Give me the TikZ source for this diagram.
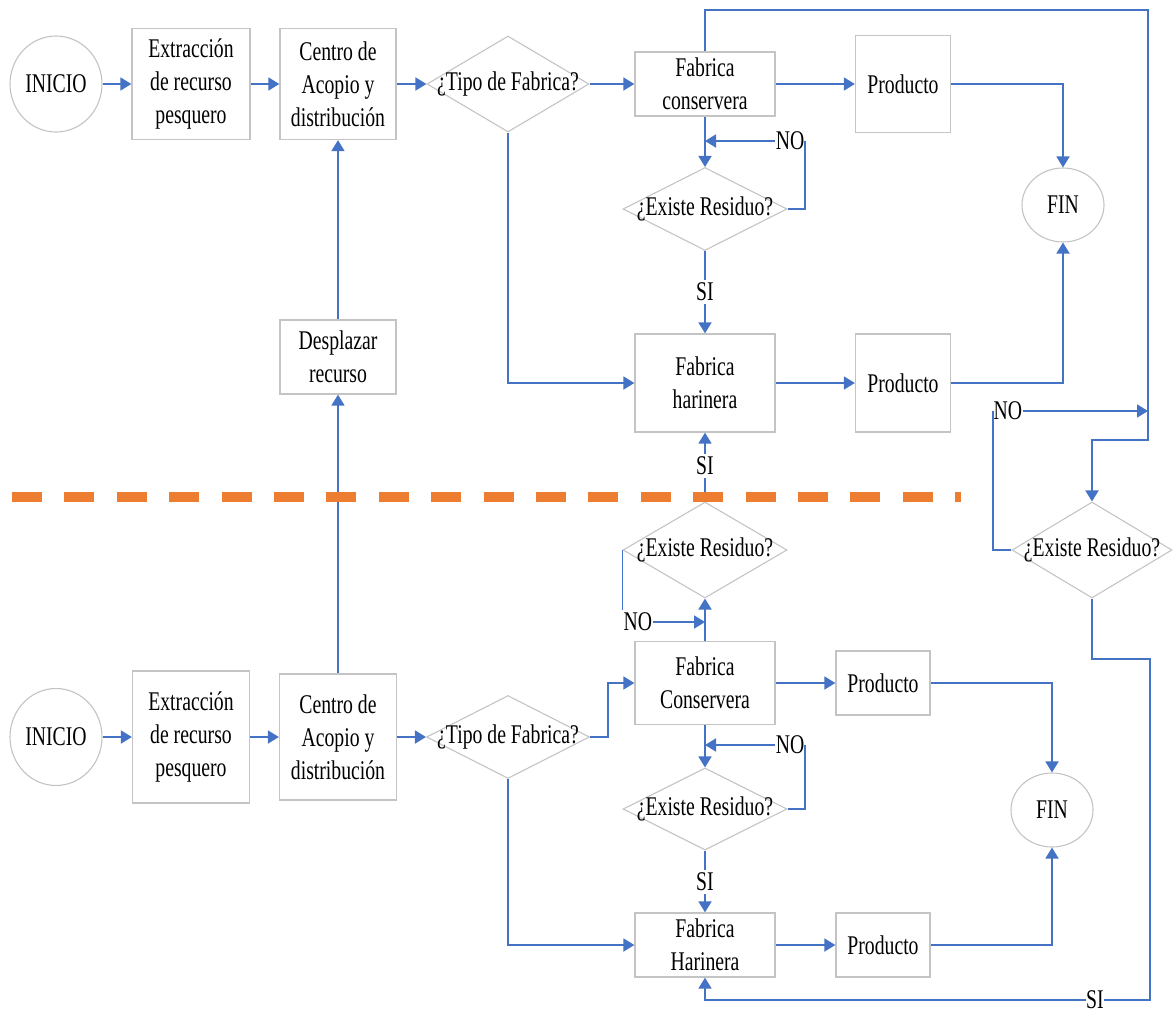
\documentclass[tikz,border=0pt]{standalone}
\usepackage{fontspec}
\setmainfont{Liberation Serif}[FakeStretch=0.73]
\usetikzlibrary{shapes.geometric,arrows.meta}
\definecolor{cblue}{HTML}{4472C4}
\definecolor{corange}{HTML}{ED7D31}
\definecolor{cgray}{HTML}{C4C4C4}
\begin{document}
\begin{tikzpicture}[x=1pt,y=-1pt,
  every node/.style={font=\fontsize{27pt}{33pt}\selectfont},
  box/.style={draw=cgray,line width=1.3pt,fill=white,rectangle,inner sep=0pt,align=center},
  oval/.style={draw=cgray,line width=1.1pt,fill=white,ellipse,inner sep=0pt},
  dia/.style={draw=cgray,line width=1.1pt,fill=white,diamond,inner sep=0pt,shape aspect=1},
  txt/.style={inner sep=0pt},
  lbl/.style={fill=white,inner xsep=0.5pt,inner ysep=3pt},
  conn/.style={draw=cblue,line width=1.8pt},
  arr/.style={conn,-{Triangle[length=11pt,width=13pt]}}]
\useasboundingbox (0,0) rectangle (1173,1012);
% ---------- top half ----------
\node[oval,minimum width=92pt,minimum height=96pt] (ini1) at (56,84) {INICIO};
\node[box,minimum width=118pt,minimum height=111pt] (ex1) at (191,84) {Extracción\\de recurso\\pesquero};
\node[box,minimum width=116pt,minimum height=111pt] (ce1) at (338,84) {Centro de\\Acopio y\\distribución};
\node[dia,minimum width=162pt,minimum height=96pt] (tf1) at (508,84) {};
\node[txt] (tf1t) at (tf1) {¿Tipo de Fabrica?};
\node[box,minimum width=140pt,minimum height=64pt] (fc1) at (705,84) {Fabrica\\conservera};
\node[box,minimum width=95pt,minimum height=97pt] (p1) at (903,84) {Producto};
\node[oval,minimum width=82pt,minimum height=74pt] (fin1) at (1063,205) {FIN};
\node[dia,minimum width=164pt,minimum height=83pt] (d1) at (705,209) {};
\node[txt] (d1t) at (d1) {¿Existe Residuo?};
\node[box,minimum width=140pt,minimum height=98pt] (fh1) at (705,383) {Fabrica\\harinera};
\node[box,minimum width=95pt,minimum height=98pt] (p2) at (903,383) {Producto};
\node[box,minimum width=116pt,minimum height=74pt] (ds) at (338,357) {Desplazar\\recurso};
\node[dia,minimum width=164pt,minimum height=96pt] (d2) at (705,550) {};
\node[txt] (d2t) at (d2) {¿Existe Residuo?};
\node[dia,minimum width=160pt,minimum height=96pt] (d4) at (1092,550) {};
\node[txt] (d4t) at (d4) {¿Existe Residuo?};
% ---------- bottom half ----------
\node[oval,minimum width=92pt,minimum height=97pt] (ini2) at (56,737) {INICIO};
\node[box,minimum width=117pt,minimum height=132pt] (ex2) at (191,737) {Extracción\\de recurso\\pesquero};
\node[box,minimum width=117pt,minimum height=126pt] (ce2) at (338,737) {Centro de\\Acopio y\\distribución};
\node[dia,minimum width=163pt,minimum height=83pt] (tf2) at (508,737) {};
\node[txt] (tf2t) at (tf2) {¿Tipo de Fabrica?};
\node[box,minimum width=140pt,minimum height=83pt] (fc2) at (705,683) {Fabrica\\Conservera};
\node[box,minimum width=94pt,minimum height=64pt] (p3) at (883,683) {Producto};
\node[oval,minimum width=82pt,minimum height=74pt] (fin2) at (1052,810) {FIN};
\node[dia,minimum width=164pt,minimum height=82pt] (d3) at (705,809) {};
\node[txt] (d3t) at (d3) {¿Existe Residuo?};
\node[box,minimum width=140pt,minimum height=64pt] (fh2) at (705,945) {Fabrica\\Harinera};
\node[box,minimum width=94pt,minimum height=64pt] (p4) at (883,945) {Producto};
% ---------- labels ----------
\node[lbl,anchor=east] (no1) at (805,141) {NO};
\node[lbl] (si1) at (705,292) {SI};
\node[lbl] (si2) at (705,466) {SI};
\node[lbl,anchor=west] (no2) at (623,622) {NO};
\node[lbl,anchor=east] (no3) at (805,745) {NO};
\node[lbl] (si3) at (705,882) {SI};
\node[lbl,anchor=west] (no4) at (993,411) {NO};
\node[lbl,inner ysep=0pt] (si4) at (1095,1000) {SI};
\coordinate (tr) at (1148,10);
\coordinate (rb) at (1148,440);
\coordinate (sb) at (1150,659);
% ---------- connectors top ----------
\draw[arr] (ini1) -- (ex1);
\draw[arr] (ex1) -- (ce1);
\draw[arr] (ce1) -- (tf1.west);
\draw[arr] (tf1.east) -- (fc1.west);
\draw[arr] (fc1) -- (p1);
\draw[arr] (p1.east) -| (fin1.north);
\draw[arr] (fc1.south) -- (d1.north);
\draw[conn] (d1.east) -| (no1.east);
\draw[arr] (no1.west) -- (no1.west -| fc1.south);
\draw[conn] (d1.south) -- (si1.north);
\draw[arr] (si1.south) -- (fh1.north);
\draw[arr] (tf1.south) |- (fh1.west);
\draw[arr] (fh1) -- (p2);
\draw[arr] (p2.east) -| (fin1.south);
\draw[arr] (ds.north) -- (ce1.south);
\draw[arr] (fc1.north) |- (tr) -- (rb) -| (d4.north);
\draw[conn] (d4.west) -| (no4.west);
\draw[arr] (no4.east) -- (no4.east -| tr);
\draw[conn] (d2.north) -- (si2.south);
\draw[arr] (si2.north) -- (fh1.south);
% ---------- connectors bottom ----------
\draw[arr] (ini2) -- (ex2);
\draw[arr] (ex2) -- (ce2);
\draw[arr] (ce2) -- (tf2.west);
\draw[arr] (tf2.east) -- ++(18,0) |- (fc2.west);
\draw[arr] (tf2.south) |- (fh2.west);
\draw[arr] (ce2.north) -- (ds.south);
\draw[arr] (fc2.north) -- (d2.south);
\draw[conn] (d2.west) -- (d2.west |- no2.north);
\draw[arr] (no2.east) -- (no2.east -| fc2.north);
\draw[arr] (fc2) -- (p3);
\draw[arr] (p3.east) -| (fin2.north);
\draw[arr] (fc2.south) -- (d3.north);
\draw[conn] (d3.east) -| (no3.east);
\draw[arr] (no3.west) -- (no3.west -| fc2.south);
\draw[conn] (d3.south) -- (si3.north);
\draw[arr] (si3.south) -- (fh2.north);
\draw[arr] (fh2) -- (p4);
\draw[arr] (p4.east) -| (fin2.south);
\draw[conn] (d4.south) |- (sb) |- (si4.east);
\draw[arr] (si4.west) -| (fh2.south);
% ---------- separator ----------
\draw[corange,line width=10pt,dash pattern=on 30pt off 22.4pt] (12,497) -- (961,497);
\end{tikzpicture}
\end{document}
